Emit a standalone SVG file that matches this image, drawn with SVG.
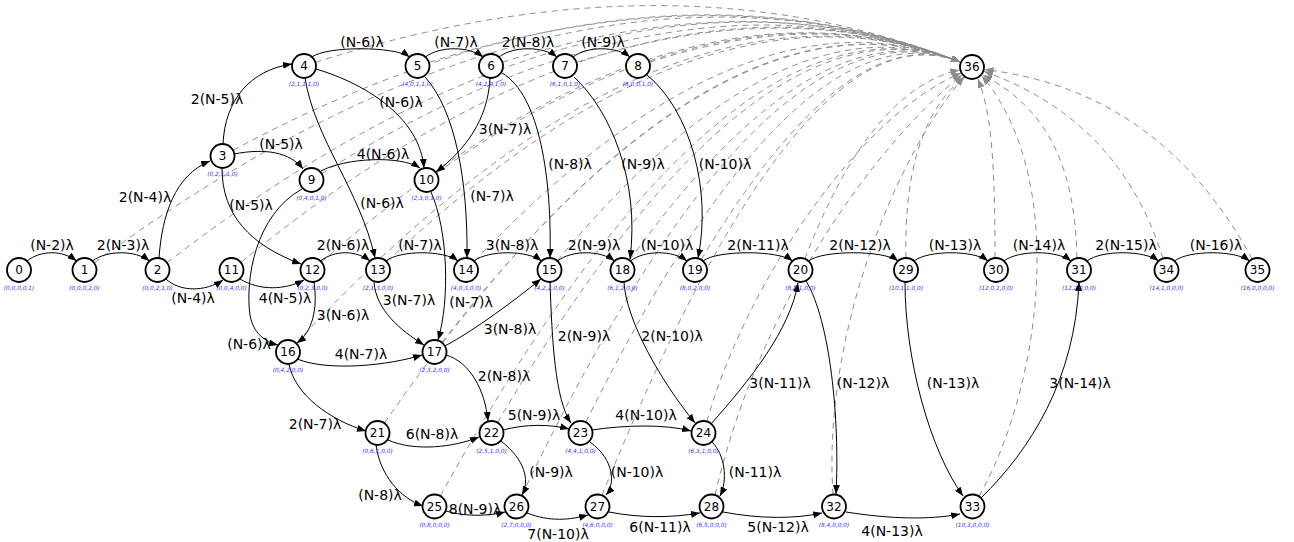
<svg xmlns="http://www.w3.org/2000/svg" width="1294" height="542" viewBox="0 0 1294 542">
<style>
.node circle{fill:#fff;stroke:#000;stroke-width:1.8}
.nl{font-family:"DejaVu Sans",sans-serif;font-size:12px;text-anchor:middle;fill:#000}
.sl{font-family:"DejaVu Sans",sans-serif;font-size:5.8px;font-style:italic;text-anchor:middle;fill:#3333ff}
.e{fill:none;stroke:#000;stroke-width:1;marker-end:url(#ah)}
.d{fill:none;stroke:#8c8c8c;stroke-width:1;stroke-dasharray:6,5;marker-end:url(#ahg)}
.el{font-family:"DejaVu Sans",sans-serif;font-size:14px;text-anchor:middle;fill:#000}
</style>
<defs>
<marker id="ah" markerWidth="9" markerHeight="7" refX="9" refY="3.5" orient="auto" markerUnits="userSpaceOnUse"><path d="M0,0 L9,3.5 L0,7 z" fill="#000"/></marker>
<marker id="ahg" markerWidth="9" markerHeight="7" refX="9" refY="3.5" orient="auto" markerUnits="userSpaceOnUse"><path d="M0,0 L9,3.5 L0,7 z" fill="#8c8c8c"/></marker>
</defs>
<rect width="1294" height="542" fill="#fff"/>
<g id="connectors">
<g id="dashed">
<path class="d" d="M94.2,262.9 Q572,-88 960,62"/>
<path class="d" d="M167,262.7 Q605,-76 960,62"/>
<path class="d" d="M233,150.3 Q635,-65 960,62"/>
<path class="d" d="M315.4,62.4 Q671,-51 960,62"/>
<path class="d" d="M429,62.4 Q722,-31 960,62"/>
<path class="d" d="M502.4,62.3 Q755,-19 960,62"/>
<path class="d" d="M576.4,62.3 Q788,-6 960,62"/>
<path class="d" d="M649.4,62.3 Q821,6 960,62"/>
<path class="d" d="M321.7,173.6 Q675,-49 960,62"/>
<path class="d" d="M436.3,173.1 Q726,-30 960,62"/>
<path class="d" d="M240.8,262.4 Q639,-63 960,62"/>
<path class="d" d="M321.5,262.1 Q675,-49 960,62"/>
<path class="d" d="M386.7,261.8 Q704,-38 960,62"/>
<path class="d" d="M474.3,261.3 Q744,-23 960,62"/>
<path class="d" d="M557.2,260.8 Q781,-9 960,62"/>
<path class="d" d="M629.5,260.3 Q815,3 960,62"/>
<path class="d" d="M701.2,259.7 Q847,16 960,62"/>
<path class="d" d="M296.2,343.2 Q664,-53 960,62"/>
<path class="d" d="M441.9,342.5 Q730,-28 960,62"/>
<path class="d" d="M384.3,423.1 Q704,-38 960,62"/>
<path class="d" d="M497.6,422.6 Q756,-19 960,62"/>
<path class="d" d="M585.8,422.2 Q796,-3 960,62"/>
<path class="d" d="M440.3,496 Q730,-28 960,62"/>
<path class="d" d="M521.7,495.7 Q766,-15 960,62"/>
<path class="d" d="M602,495.4 Q803,-1 960,62"/>
<path class="d" d="M804.8,258.8 Q870,90 959.3,69.9"/>
<path class="d" d="M707,421.5 C740,300 850,120 961,73"/>
<path class="d" d="M715,495 C760,300 880,140 962,75"/>
<path class="d" d="M833,494.5 C822,330 900,150 964,77"/>
<path class="d" d="M906,258 C904,180 920,110 965,77"/>
<path class="d" d="M995,258 C995,150 990,110 978,79"/>
<path class="d" d="M1077,258 C1075,170 1050,110 983,75"/>
<path class="d" d="M979,496 C1040,390 1070,180 982,76"/>
<path class="d" d="M1163,258.5 Q1120,120 984.2,71.4"/>
<path class="d" d="M1252.3,259.2 Q1160,90 984.7,69.6"/>
</g>
<g id="solid">
<path class="e" d="M27,261 C41,250 62.5,250 76.5,261"/>
<path class="e" d="M92.5,261 C106.5,250 135.5,250 149.5,261"/>
<path class="e" d="M320.5,261 C334.5,250 356,250 370,261"/>
<path class="e" d="M386,261 C400,250 444,250 458,261"/>
<path class="e" d="M474,261 C488,250 527.5,250 541.5,261"/>
<path class="e" d="M557.5,261 C571.5,250 600.5,250 614.5,261"/>
<path class="e" d="M630.5,261 C644.5,250 673,250 687,261"/>
<path class="e" d="M703,261 C717,250 778.5,250 792.5,261"/>
<path class="e" d="M808.5,261 C822.5,250 884,250 898,261"/>
<path class="e" d="M914,261 C928,250 974,250 988,261"/>
<path class="e" d="M1004,261 C1018,250 1057,250 1071,261"/>
<path class="e" d="M1087,261 C1101,250 1144.5,250 1158.5,261"/>
<path class="e" d="M1174.5,261 C1188.5,250 1235.5,250 1249.5,261"/>
<path class="e" d="M312,57 C326,46 395.5,46 409.5,57"/>
<path class="e" d="M425.5,57 C439.5,46 469,46 483,57"/>
<path class="e" d="M499,57 C513,46 543,46 557,57"/>
<path class="e" d="M573,57 C587,46 616,46 630,57"/>
<path class="e" d="M166,279 C180,292 205,292 223,280"/>
<path class="e" d="M240,279 C260,291 285,290 304,280"/>
<path class="e" d="M159,258 C162,215 175,175 210,161"/>
<path class="e" d="M223,144 C225,100 250,70 292,64"/>
<path class="e" d="M234,154 C265,148 290,152 303,169"/>
<path class="e" d="M222,168 C222,215 250,245 301,264"/>
<path class="e" d="M316,69 C370,85 420,120 424,168"/>
<path class="e" d="M305,78 C315,140 360,190 375,258"/>
<path class="e" d="M425,77 C455,110 468,180 467,258"/>
<path class="e" d="M490,78 C488,120 465,150 436,172"/>
<path class="e" d="M502,73 C540,95 552,180 550,258"/>
<path class="e" d="M574,77 C610,110 640,180 630,259"/>
<path class="e" d="M647,75 C690,110 712,190 698,258"/>
<path class="e" d="M321,171 C345,158 400,155 420,168"/>
<path class="e" d="M302,189 C255,215 245,280 250,315 C253,333 265,342 278,345"/>
<path class="e" d="M431,192 C448,230 450,300 438,340"/>
<path class="e" d="M314,282 C318,310 312,332 297,343"/>
<path class="e" d="M374,282 C376,310 400,330 424,345"/>
<path class="e" d="M445,346 C475,330 515,300 541,279"/>
<path class="e" d="M550,282 C552,340 555,400 571,423"/>
<path class="e" d="M624,282 C626,320 660,380 695,423"/>
<path class="e" d="M711,424 C750,380 790,330 798,283"/>
<path class="e" d="M806,281 C830,320 840,420 836,494"/>
<path class="e" d="M905,282 C905,360 930,450 963,496"/>
<path class="e" d="M981,498 C1030,450 1075,380 1079,282"/>
<path class="e" d="M297,359 C330,372 390,365 422,355"/>
<path class="e" d="M289,364 C295,395 330,420 366,431"/>
<path class="e" d="M446,355 C470,362 485,390 488,421"/>
<path class="e" d="M388,440 C415,452 455,447 479,437"/>
<path class="e" d="M376,445 C380,475 400,498 423,506"/>
<path class="e" d="M503,430 C525,424 550,424 569,429"/>
<path class="e" d="M501,441 C525,460 530,480 522,495"/>
<path class="e" d="M592,430 C625,425 665,424 691,431"/>
<path class="e" d="M590,442 C615,460 615,485 606,495"/>
<path class="e" d="M712,442 C725,455 728,480 720,496"/>
<path class="e" d="M446,511 C465,517 490,516 505,512"/>
<path class="e" d="M527,513 C550,522 570,520 588,515"/>
<path class="e" d="M609,512 C640,518 670,518 700,513"/>
<path class="e" d="M723,512 C760,519 795,519 822,513"/>
<path class="e" d="M846,512 C890,519 930,520 960,514"/>
</g>
<g id="edge-labels">
<text class="el" x="52" y="250">(N-2)λ</text>
<text class="el" x="123" y="250">2(N-3)λ</text>
<text class="el" x="343" y="250">2(N-6)λ</text>
<text class="el" x="420" y="250">(N-7)λ</text>
<text class="el" x="512" y="250">3(N-8)λ</text>
<text class="el" x="594" y="250">2(N-9)λ</text>
<text class="el" x="667" y="250">(N-10)λ</text>
<text class="el" x="758" y="250">2(N-11)λ</text>
<text class="el" x="860" y="250">2(N-12)λ</text>
<text class="el" x="955" y="250">(N-13)λ</text>
<text class="el" x="1039" y="250">(N-14)λ</text>
<text class="el" x="1126" y="250">2(N-15)λ</text>
<text class="el" x="1216" y="250">(N-16)λ</text>
<text class="el" x="193" y="303">(N-4)λ</text>
<text class="el" x="285" y="303">4(N-5)λ</text>
<text class="el" x="362" y="47">(N-6)λ</text>
<text class="el" x="456" y="47">(N-7)λ</text>
<text class="el" x="528" y="47">2(N-8)λ</text>
<text class="el" x="603" y="47">(N-9)λ</text>
<text class="el" x="145" y="202">2(N-4)λ</text>
<text class="el" x="217" y="104">2(N-5)λ</text>
<text class="el" x="281" y="149">(N-5)λ</text>
<text class="el" x="251" y="210">(N-5)λ</text>
<text class="el" x="401" y="107">(N-6)λ</text>
<text class="el" x="382" y="208">(N-6)λ</text>
<text class="el" x="492" y="201">(N-7)λ</text>
<text class="el" x="505" y="134">3(N-7)λ</text>
<text class="el" x="570" y="169">(N-8)λ</text>
<text class="el" x="643" y="169">(N-9)λ</text>
<text class="el" x="725" y="169">(N-10)λ</text>
<text class="el" x="383" y="159">4(N-6)λ</text>
<text class="el" x="249" y="349">(N-6)λ</text>
<text class="el" x="471" y="307">(N-7)λ</text>
<text class="el" x="343" y="320">3(N-6)λ</text>
<text class="el" x="409" y="305">3(N-7)λ</text>
<text class="el" x="510" y="334">3(N-8)λ</text>
<text class="el" x="584" y="341">2(N-9)λ</text>
<text class="el" x="672" y="341">2(N-10)λ</text>
<text class="el" x="780" y="388">3(N-11)λ</text>
<text class="el" x="863" y="388">(N-12)λ</text>
<text class="el" x="953" y="388">(N-13)λ</text>
<text class="el" x="1080" y="388">3(N-14)λ</text>
<text class="el" x="361" y="359">4(N-7)λ</text>
<text class="el" x="315" y="429">2(N-7)λ</text>
<text class="el" x="504" y="381">2(N-8)λ</text>
<text class="el" x="432" y="439">6(N-8)λ</text>
<text class="el" x="380" y="500">(N-8)λ</text>
<text class="el" x="534" y="420">5(N-9)λ</text>
<text class="el" x="551" y="477">(N-9)λ</text>
<text class="el" x="646" y="420">4(N-10)λ</text>
<text class="el" x="637" y="477">(N-10)λ</text>
<text class="el" x="755" y="477">(N-11)λ</text>
<text class="el" x="475" y="514">8(N-9)λ</text>
<text class="el" x="558" y="539">7(N-10)λ</text>
<text class="el" x="660" y="532">6(N-11)λ</text>
<text class="el" x="778" y="532">5(N-12)λ</text>
<text class="el" x="892" y="536">4(N-13)λ</text>
</g>
</g>
<g id="n0" class="node"><circle cx="19" cy="270" r="12"/><text class="nl" x="19" y="274.3">0</text><text class="sl" x="19" y="290">(0,0,0,0,1)</text></g>
<g id="n1" class="node"><circle cx="84.5" cy="270" r="12"/><text class="nl" x="84.5" y="274.3">1</text><text class="sl" x="84.5" y="290">(0,0,0,2,0)</text></g>
<g id="n2" class="node"><circle cx="157.5" cy="270" r="12"/><text class="nl" x="157.5" y="274.3">2</text><text class="sl" x="157.5" y="290">(0,0,2,1,0)</text></g>
<g id="n11" class="node"><circle cx="231.5" cy="270" r="12"/><text class="nl" x="231.5" y="274.3">11</text><text class="sl" x="231.5" y="290">(0,0,4,0,0)</text></g>
<g id="n12" class="node"><circle cx="312.5" cy="270" r="12"/><text class="nl" x="312.5" y="274.3">12</text><text class="sl" x="312.5" y="290">(0,2,3,0,0)</text></g>
<g id="n13" class="node"><circle cx="378" cy="270" r="12"/><text class="nl" x="378" y="274.3">13</text><text class="sl" x="378" y="290">(2,1,3,0,0)</text></g>
<g id="n14" class="node"><circle cx="466" cy="270" r="12"/><text class="nl" x="466" y="274.3">14</text><text class="sl" x="466" y="290">(4,0,3,0,0)</text></g>
<g id="n15" class="node"><circle cx="549.5" cy="270" r="12"/><text class="nl" x="549.5" y="274.3">15</text><text class="sl" x="549.5" y="290">(4,2,2,0,0)</text></g>
<g id="n18" class="node"><circle cx="622.5" cy="270" r="12"/><text class="nl" x="622.5" y="274.3">18</text><text class="sl" x="622.5" y="290">(6,1,2,0,0)</text></g>
<g id="n19" class="node"><circle cx="695" cy="270" r="12"/><text class="nl" x="695" y="274.3">19</text><text class="sl" x="695" y="290">(8,0,2,0,0)</text></g>
<g id="n20" class="node"><circle cx="800.5" cy="270" r="12"/><text class="nl" x="800.5" y="274.3">20</text><text class="sl" x="800.5" y="290">(8,2,1,0,0)</text></g>
<g id="n29" class="node"><circle cx="906" cy="270" r="12"/><text class="nl" x="906" y="274.3">29</text><text class="sl" x="906" y="290">(10,1,1,0,0)</text></g>
<g id="n30" class="node"><circle cx="996" cy="270" r="12"/><text class="nl" x="996" y="274.3">30</text><text class="sl" x="996" y="290">(12,0,1,0,0)</text></g>
<g id="n31" class="node"><circle cx="1079" cy="270" r="12"/><text class="nl" x="1079" y="274.3">31</text><text class="sl" x="1079" y="290">(12,2,0,0,0)</text></g>
<g id="n34" class="node"><circle cx="1166.5" cy="270" r="12"/><text class="nl" x="1166.5" y="274.3">34</text><text class="sl" x="1166.5" y="290">(14,1,0,0,0)</text></g>
<g id="n35" class="node"><circle cx="1257.5" cy="270" r="12"/><text class="nl" x="1257.5" y="274.3">35</text><text class="sl" x="1257.5" y="290">(16,0,0,0,0)</text></g>
<g id="n3" class="node"><circle cx="222.5" cy="156" r="12"/><text class="nl" x="222.5" y="160.3">3</text><text class="sl" x="222.5" y="176">(0,2,1,1,0)</text></g>
<g id="n4" class="node"><circle cx="304" cy="66" r="12"/><text class="nl" x="304" y="70.3">4</text><text class="sl" x="304" y="86">(2,1,1,1,0)</text></g>
<g id="n5" class="node"><circle cx="417.5" cy="66" r="12"/><text class="nl" x="417.5" y="70.3">5</text><text class="sl" x="417.5" y="86">(4,0,1,1,0)</text></g>
<g id="n6" class="node"><circle cx="491" cy="66" r="12"/><text class="nl" x="491" y="70.3">6</text><text class="sl" x="491" y="86">(4,2,0,1,0)</text></g>
<g id="n7" class="node"><circle cx="565" cy="66" r="12"/><text class="nl" x="565" y="70.3">7</text><text class="sl" x="565" y="86">(6,1,0,1,0)</text></g>
<g id="n8" class="node"><circle cx="638" cy="66" r="12"/><text class="nl" x="638" y="70.3">8</text><text class="sl" x="638" y="86">(8,0,0,1,0)</text></g>
<g id="n36" class="node"><circle cx="972" cy="67" r="12"/><text class="nl" x="972" y="71.3">36</text></g>
<g id="n9" class="node"><circle cx="311.5" cy="180" r="12"/><text class="nl" x="311.5" y="184.3">9</text><text class="sl" x="311.5" y="200">(0,4,0,1,0)</text></g>
<g id="n10" class="node"><circle cx="426.5" cy="180" r="12"/><text class="nl" x="426.5" y="184.3">10</text><text class="sl" x="426.5" y="200">(2,3,0,1,0)</text></g>
<g id="n16" class="node"><circle cx="288" cy="352" r="12"/><text class="nl" x="288" y="356.3">16</text><text class="sl" x="288" y="372">(0,4,2,0,0)</text></g>
<g id="n17" class="node"><circle cx="434.5" cy="352" r="12"/><text class="nl" x="434.5" y="356.3">17</text><text class="sl" x="434.5" y="372">(2,3,2,0,0)</text></g>
<g id="n21" class="node"><circle cx="377.5" cy="433" r="12"/><text class="nl" x="377.5" y="437.3">21</text><text class="sl" x="377.5" y="453">(0,6,1,0,0)</text></g>
<g id="n22" class="node"><circle cx="491.5" cy="433" r="12"/><text class="nl" x="491.5" y="437.3">22</text><text class="sl" x="491.5" y="453">(2,5,1,0,0)</text></g>
<g id="n23" class="node"><circle cx="580.5" cy="433" r="12"/><text class="nl" x="580.5" y="437.3">23</text><text class="sl" x="580.5" y="453">(4,4,1,0,0)</text></g>
<g id="n24" class="node"><circle cx="703.5" cy="433" r="12"/><text class="nl" x="703.5" y="437.3">24</text><text class="sl" x="703.5" y="453">(6,3,1,0,0)</text></g>
<g id="n25" class="node"><circle cx="434.5" cy="506.5" r="12"/><text class="nl" x="434.5" y="510.8">25</text><text class="sl" x="434.5" y="526.5">(0,8,0,0,0)</text></g>
<g id="n26" class="node"><circle cx="516.5" cy="506.5" r="12"/><text class="nl" x="516.5" y="510.8">26</text><text class="sl" x="516.5" y="526.5">(2,7,0,0,0)</text></g>
<g id="n27" class="node"><circle cx="597.5" cy="506.5" r="12"/><text class="nl" x="597.5" y="510.8">27</text><text class="sl" x="597.5" y="526.5">(4,6,0,0,0)</text></g>
<g id="n28" class="node"><circle cx="711.5" cy="506.5" r="12"/><text class="nl" x="711.5" y="510.8">28</text><text class="sl" x="711.5" y="526.5">(6,5,0,0,0)</text></g>
<g id="n32" class="node"><circle cx="834" cy="506.5" r="12"/><text class="nl" x="834" y="510.8">32</text><text class="sl" x="834" y="526.5">(8,4,0,0,0)</text></g>
<g id="n33" class="node"><circle cx="972.5" cy="506.5" r="12"/><text class="nl" x="972.5" y="510.8">33</text><text class="sl" x="972.5" y="526.5">(10,3,0,0,0)</text></g>
</svg>
